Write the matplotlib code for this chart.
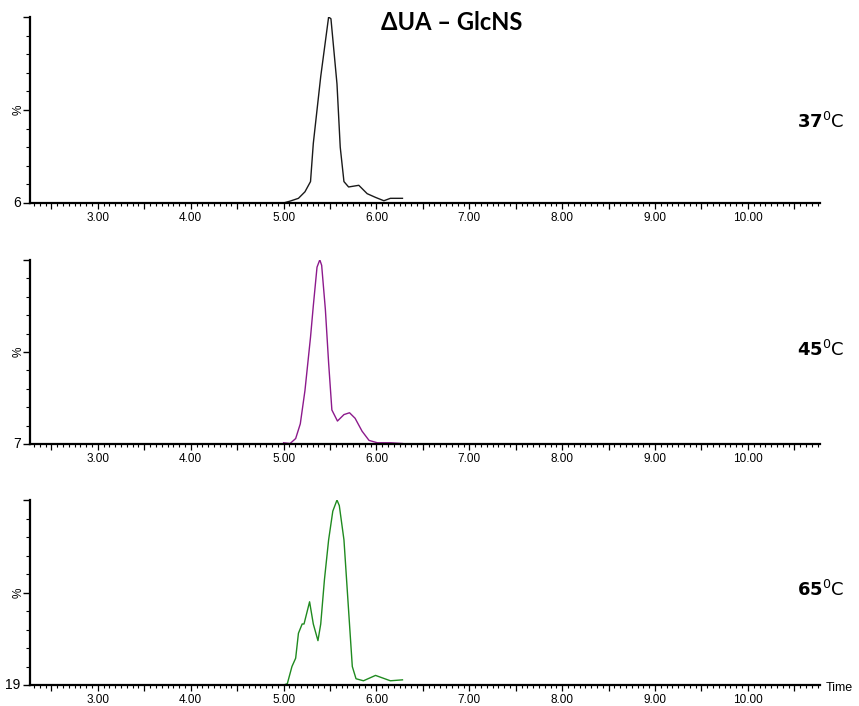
import matplotlib
matplotlib.use('Agg')
import matplotlib.pyplot as plt
from matplotlib.ticker import MultipleLocator, FuncFormatter

# Chromatogram traces (time in min, relative intensity in %)
t_37 = [5.00, 5.07, 5.16, 5.23, 5.29, 5.32, 5.36, 5.40, 5.485, 5.51, 5.575, 5.61, 5.65,
        5.70, 5.81, 5.90, 5.99, 6.08, 6.15, 6.28]
i_37 = [0, 1, 2.5, 6, 11.5, 32, 50, 68, 100, 99, 64, 30, 11.5,
        8.6, 9.5, 5, 3, 1.2, 2.5, 2.5]

t_45 = [5.00, 5.07, 5.13, 5.18, 5.23, 5.29, 5.32, 5.36, 5.39, 5.41, 5.45, 5.485,
        5.52, 5.58, 5.65, 5.71, 5.77, 5.845, 5.92, 6.01, 6.15, 6.28]
i_45 = [0.7, 0.3, 3, 11, 29, 58, 75, 96, 100, 97, 73, 44,
        18.5, 12.5, 16, 17, 14, 7, 2, 0.7, 0.7, 0.3]

t_65 = [5.00, 5.04, 5.09, 5.13, 5.16, 5.20, 5.22, 5.28, 5.32, 5.37, 5.40, 5.44,
        5.485, 5.53, 5.575, 5.60, 5.65, 5.69, 5.74, 5.78, 5.86, 5.99, 6.15, 6.28]
i_65 = [0, 0.7, 10, 14.5, 28, 33, 33, 45, 33, 24, 33, 57,
        78.5, 94, 100, 97, 78.5, 48, 10, 3.4, 2.3, 5.2, 2.3, 2.8]

temps = ['37', '45', '65']
base_labels = ['6', '7', '19']
colors = ['#1a1a1a', '#8c1a8c', '#1f8a1f']
xticks = [3, 4, 5, 6, 7, 8, 9, 10]

plt.rcParams['mathtext.fontset'] = 'dejavusans'

fig = plt.figure(figsize=(8.59, 7.06), dpi=100)

# axes boxes in figure fraction: [left, bottom, width, height]
boxes = [
    [0.035, 0.7125, 0.92, 0.2635],
    [0.035, 0.371, 0.92, 0.261],
    [0.035, 0.0297, 0.92, 0.262],
]
temp_y = [122, 350, 590]  # pixel rows of the temperature labels
traces = [(t_37, i_37), (t_45, i_45), (t_65, i_65)]


def fmt(v, pos):
    r = round(v)
    return f'{v:.2f}' if abs(v - r) < 1e-6 and r in xticks else ''


for k, (box, (t, y)) in enumerate(zip(boxes, traces)):
    ax = fig.add_axes(box)
    ax.plot(t, y, color=colors[k], lw=1.0)
    ax.set_xlim(2.27, 10.78)
    ax.set_ylim(0, 100)

    for s in ['top', 'right']:
        ax.spines[s].set_visible(False)
    ax.spines['left'].set_linewidth(1.6)
    ax.spines['bottom'].set_linewidth(1.6)

    ax.xaxis.set_major_locator(MultipleLocator(0.5))
    ax.xaxis.set_minor_locator(MultipleLocator(0.0625))
    ax.xaxis.set_major_formatter(FuncFormatter(fmt))
    ax.yaxis.set_major_locator(MultipleLocator(50))
    ax.yaxis.set_minor_locator(MultipleLocator(10))
    ax.set_yticklabels([])
    ax.tick_params(axis='x', which='major', length=4.5, width=0.9, pad=2,
                   labelsize=8.5, direction='out')
    ax.tick_params(axis='x', which='minor', length=2.5, width=0.8, direction='out')
    ax.tick_params(axis='y', which='major', length=5, width=1, direction='out')
    ax.tick_params(axis='y', which='minor', length=3, width=0.8, direction='out')
    for lab in ax.get_xticklabels():
        lab.set_family('Liberation Sans')

    # baseline intensity label and % label
    ax.text(-0.012, 0.0, base_labels[k], transform=ax.transAxes, ha='right',
            va='center', fontsize=10, family='Liberation Sans')
    ax.text(-0.015, 0.5, '%', transform=ax.transAxes, ha='center', va='center',
            rotation=90, fontsize=8.5, family='Liberation Sans')

    # temperature label
    fig.text(821 / 859, 1 - temp_y[k] / 706,
             r'$\mathbf{' + temps[k] + r'}^{\mathrm{0}}\mathrm{C}$',
             fontsize=13, ha='center', va='center')

fig.text(452 / 859, 1 - 23 / 706, '\u0394UA \u2013 GlcNS', ha='center', va='center',
         fontsize=17, fontweight='bold', family='Lato')
fig.text(826 / 859, 1 - 688 / 706, 'Time', ha='left', va='center', fontsize=9,
         family='Liberation Sans')

fig.savefig('out.png', dpi=100)
